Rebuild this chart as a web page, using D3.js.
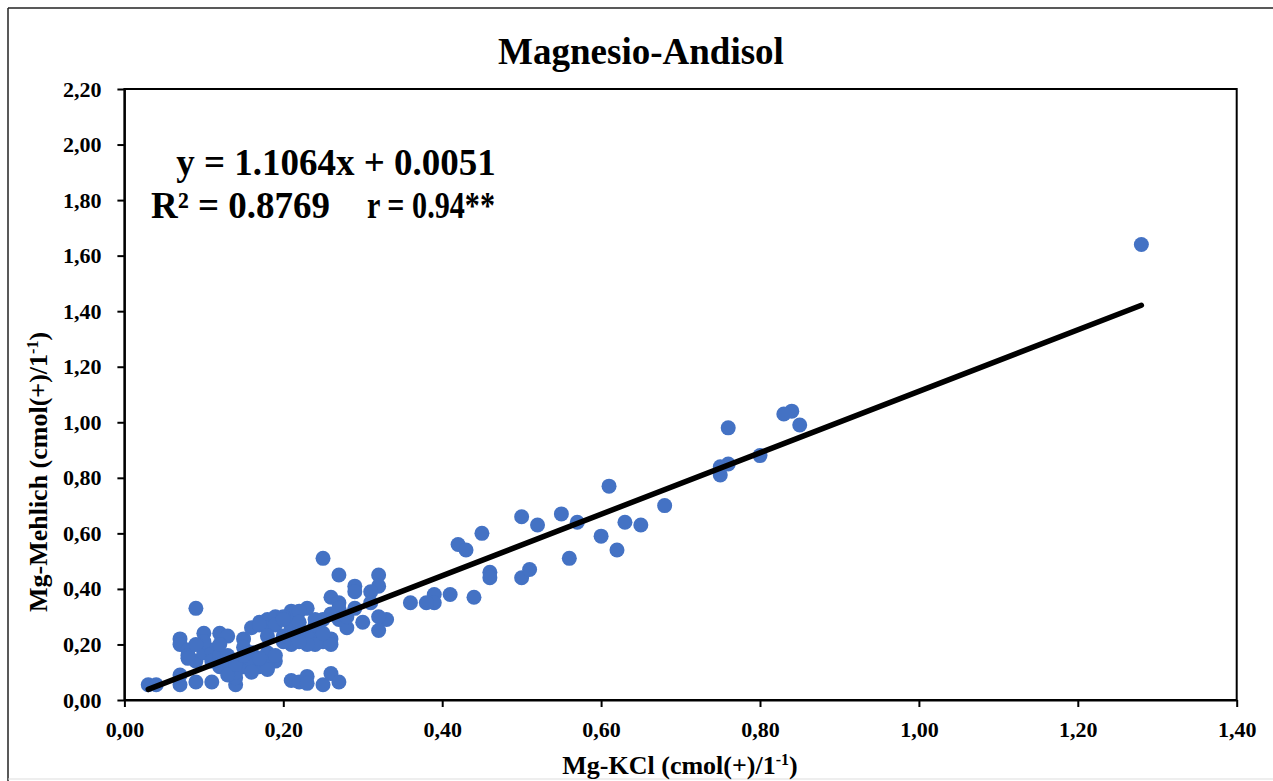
<!DOCTYPE html>
<html><head><meta charset="utf-8">
<script src="https://cdn.jsdelivr.net/npm/d3@7"></script>
<style>
body{margin:0;background:#fff;}
text{font-family:"Liberation Serif","Times New Roman",serif;font-weight:bold;fill:#000;}
</style></head>
<body>
<svg id="chart" width="1273" height="781"></svg>
<script>
const mgKCl = [1.28,0.84,0.83,0.85,0.76,0.80,0.76,0.75,0.75,0.61,0.68,0.55,0.50,0.52,0.57,0.63,0.65,0.60,0.62,0.56,
0.45,0.42,0.43,0.46,0.46,0.50,0.51,0.44,0.41,0.39,0.39,0.38,0.36,0.32,0.32,0.33,0.25,0.27,0.29,0.29,
0.31,0.26,0.27,0.31,0.23,0.21,0.29,0.26,0.25,0.30,0.32,0.28,0.32,0.22,0.24,0.25,0.26,0.24,0.26,0.21,
0.21,0.22,0.23,0.23,0.25,0.26,0.27,0.03,0.04,0.07,0.07,0.09,0.11,0.14,0.14,0.09,0.07,0.07,0.10,0.12,
0.13,0.15,0.16,0.17,0.18,0.19,0.21,0.22,0.08,0.08,0.09,0.10,0.11,0.11,0.10,0.18,0.19,0.21,0.21,0.20,
0.15,0.16,0.18,0.19,0.12,0.13,0.15,0.14,0.13,0.17,0.18,0.18,0.12,0.13,0.14,0.16,0.17,0.19,0.20,0.22,
0.23,0.24,0.27,0.27,0.28,0.24,0.17,0.18,0.08,0.12,0.15,0.20,0.23,0.25,0.20,0.22,0.16,0.09];
const mgMehlich = [1.64,1.04,1.03,0.99,0.98,0.88,0.85,0.84,0.81,0.77,0.70,0.67,0.66,0.63,0.64,0.64,0.63,0.59,0.54,0.51,
0.60,0.56,0.54,0.46,0.44,0.44,0.47,0.37,0.38,0.38,0.35,0.35,0.35,0.45,0.41,0.29,0.51,0.45,0.41,0.39,
0.39,0.37,0.35,0.35,0.33,0.32,0.33,0.31,0.29,0.28,0.30,0.26,0.25,0.23,0.22,0.21,0.22,0.20,0.20,0.20,
0.07,0.065,0.085,0.06,0.055,0.095,0.065,0.055,0.055,0.055,0.09,0.065,0.065,0.055,0.08,0.33,0.22,0.20,0.24,0.24,
0.23,0.22,0.26,0.28,0.29,0.30,0.31,0.32,0.18,0.16,0.14,0.17,0.18,0.14,0.21,0.26,0.27,0.26,0.21,0.21,
0.19,0.17,0.17,0.14,0.12,0.14,0.12,0.10,0.09,0.12,0.12,0.11,0.16,0.16,0.13,0.14,0.15,0.16,0.23,0.28,
0.24,0.27,0.29,0.33,0.30,0.29,0.27,0.23,0.15,0.20,0.16,0.30,0.20,0.24,0.29,0.21,0.10,0.20];
const xTicks = [0,0.2,0.4,0.6,0.8,1.0,1.2,1.4];
const yTicks = [0,0.2,0.4,0.6,0.8,1.0,1.2,1.4,1.6,1.8,2.0,2.2];
const slope = 1.1064, intercept = 0.0051;
const titleText = "Magnesio-Andisol";
const eqLine1 = "y = 1.1064x + 0.0051";

const svg = d3.select("#chart");
// outer chart frame
svg.append("line").attr("x1",8).attr("y1",8).attr("x2",1273).attr("y2",8).attr("stroke","#222").attr("stroke-width",1.5);
svg.append("line").attr("x1",8).attr("y1",8).attr("x2",8).attr("y2",781).attr("stroke","#222").attr("stroke-width",1.5);
svg.append("line").attr("x1",8).attr("y1",779).attr("x2",1273).attr("y2",779).attr("stroke","#ddd").attr("stroke-width",1);

const L=124.4, R=1236.7, T=89, B=700;
const x = d3.scaleLinear().domain([0,1.4]).range([L,R]);
const y = d3.scaleLinear().domain([0,2.2]).range([B,T]);
const fmt = v => d3.format(".2f")(v).replace(".",",");

// plot area border
svg.append("rect").attr("x",L).attr("y",T).attr("width",R-L).attr("height",B-T)
  .attr("fill","none").attr("stroke","#000").attr("stroke-width",2);

const xa = svg.append("g").attr("transform",`translate(0,${B})`)
  .call(d3.axisBottom(x).tickValues(xTicks).tickFormat(fmt).tickSize(7).tickSizeOuter(0).tickPadding(14));
const ya = svg.append("g").attr("transform",`translate(${L},0)`)
  .call(d3.axisLeft(y).tickValues(yTicks).tickFormat(fmt).tickSize(7).tickSizeOuter(0).tickPadding(16));
[xa,ya].forEach(a=>{
  a.selectAll("path").attr("stroke","#000").attr("stroke-width",2);
  a.selectAll("line").attr("stroke","#000").attr("stroke-width",2);
  a.selectAll("text").style("font-family",'"Liberation Serif","Times New Roman",serif')
   .style("font-weight","bold").style("font-size","22px").attr("fill","#000");
});

// points
svg.append("g").selectAll("circle").data(mgKCl.map((v,i)=>[v,mgMehlich[i]])).join("circle")
  .attr("cx",d=>x(d[0])).attr("cy",d=>y(d[1])).attr("r",7.5).attr("fill","#4472C4");

// regression line
const x0 = d3.min(mgKCl), x1 = d3.max(mgKCl);
svg.append("line").attr("x1",x(x0)).attr("y1",y(slope*x0+intercept))
  .attr("x2",x(x1)).attr("y2",y(slope*x1+intercept))
  .attr("stroke","#000").attr("stroke-width",5.5).attr("stroke-linecap","round");

// title
svg.append("text").attr("x",641).attr("y",64).attr("text-anchor","middle").style("font-size","37px").text(titleText);

// equation
svg.append("text").attr("x",336).attr("y",175).attr("text-anchor","middle").style("font-size","37px").text(eqLine1);
svg.append("text").attr("x",151).attr("y",218).style("font-size","37px")
  .attr("textLength",179).attr("lengthAdjust","spacingAndGlyphs").text("R² = 0.8769");
svg.append("text").attr("x",367).attr("y",218).style("font-size","37px")
  .attr("textLength",128).attr("lengthAdjust","spacingAndGlyphs").text("r = 0.94**");

// axis titles
const xt = svg.append("text").attr("x",680).attr("y",774).attr("text-anchor","middle").style("font-size","26px");
xt.append("tspan").text("Mg-KCl (cmol(+)/1");
xt.append("tspan").attr("dy",-9).style("font-size","16px").text("-1");
xt.append("tspan").attr("dy",9).text(")");

const yt = svg.append("text").attr("transform","translate(47,472) rotate(-90)").attr("text-anchor","middle").style("font-size","26px");
yt.append("tspan").text("Mg-Mehlich (cmol(+)/1");
yt.append("tspan").attr("dy",-9).style("font-size","16px").text("-1");
yt.append("tspan").attr("dy",9).text(")");
</script>
</body></html>
